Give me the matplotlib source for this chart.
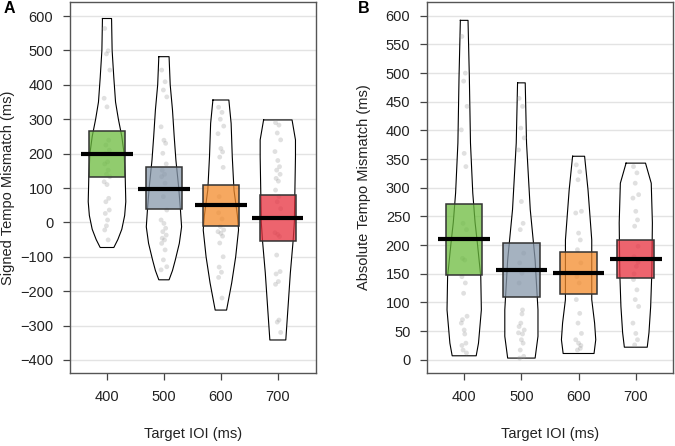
import numpy as np
import matplotlib
matplotlib.use("Agg")
from matplotlib import pyplot as plt
from matplotlib.patches import Rectangle

plt.rcParams['font.family'] = ['Liberation Sans', 'DejaVu Sans']

# groups and colours
groups = ['400', '500', '600', '700']
box_colors = ['#6cbc3e', '#8798ab', '#f48b2b', '#e8303e']

# panel A: signed tempo mismatch
signed_means = [200, 98, 50, 12]
signed_lower = [133, 38, -10, -55]
signed_upper = [265, 160, 110, 80]
signed_points = [
    [564, 499, 490, 443, 361, 336, 239, 225, 210, 200, 176, 170, 152, 140, 133,
     118, 110, 70, 60, 36, 26, 7, -22, -51, -10],
    [443, 409, 385, 365, 278, 239, 230, 201, 170, 152, 140, 133, 114, 75, 36, 7,
     -3, -17, -27, -37, -46, -51, -61, -80, -109, -129, -138],
    [335, 320, 300, 280, 258, 215, 205, 190, 160, 75, 50, 28, 10, -12, -22, -27,
     -32, -40, -60, -100, -130, -145, -160, -220],
    [290, 283, 260, 240, 206, 180, 162, 152, 140, 128, 120, 94, 75, 60, 40, -30,
     -35, -41, -95, -143, -150, -172, -180, -284, -290, -320],
]
signed_bean_y = [
    [593, 500, 420, 350, 300, 250, 200, 130, 60, 20, -20, -50, -73],
    [482, 400, 327, 250, 181, 100, 36, -13, -61, -109, -140, -167],
    [356, 288, 191, 94, 20, -22, -100, -176, -220, -255],
    [298, 240, 191, 94, 0, -51, -147, -245, -342],
]
signed_bean_w = [
    [0.08, 0.09, 0.12, 0.15, 0.2, 0.26, 0.3, 0.32, 0.33, 0.31, 0.26, 0.19, 0.12],
    [0.09, 0.11, 0.15, 0.18, 0.21, 0.26, 0.29, 0.31, 0.27, 0.2, 0.15, 0.09],
    [0.14, 0.18, 0.2, 0.23, 0.29, 0.31, 0.26, 0.19, 0.14, 0.1],
    [0.25, 0.31, 0.31, 0.3, 0.29, 0.27, 0.22, 0.18, 0.14],
]

# panel B: absolute tempo mismatch
abs_means = [210, 157, 151, 176]
abs_lower = [148, 110, 114, 143]
abs_upper = [272, 203, 188, 209]
abs_points = [
    [564, 500, 486, 442, 401, 360, 337, 238, 227, 177, 174, 145, 134, 116, 76,
     64, 52, 29, 17, 12, 70, 45, 25],
    [456, 442, 404, 387, 366, 276, 238, 227, 186, 169, 151, 134, 87, 64, 52, 47,
     35, 29, 17, 6, 3, 80, 58, 45],
    [340, 328, 314, 259, 256, 221, 209, 192, 169, 145, 134, 105, 81, 64, 46, 35,
     29, 20, 17, 25],
    [337, 326, 308, 288, 282, 259, 244, 233, 198, 180, 163, 140, 122, 105, 93,
     64, 46, 35, 26, 170, 150],
]
abs_bean_y = [
    [592, 494, 378, 291, 240, 204, 145, 87, 29, 7],
    [483, 378, 262, 174, 87, 41, 3],
    [355, 296, 209, 105, 64, 35, 11],
    [343, 308, 239, 152, 93, 47, 22],
]
abs_bean_w = [
    [0.067, 0.09, 0.11, 0.15, 0.19, 0.23, 0.29, 0.30, 0.25, 0.21],
    [0.067, 0.09, 0.155, 0.24, 0.29, 0.29, 0.24],
    [0.105, 0.165, 0.23, 0.23, 0.28, 0.3, 0.27],
    [0.17, 0.27, 0.29, 0.28, 0.26, 0.23, 0.2],
]

jitter = [-0.04, 0.02, -0.01, 0.05, -0.05, 0.0, 0.03, -0.02, 0.04, -0.03, 0.01]


def pirate(ax, means, lower, upper, points, bean_y, bean_w, yticks, ylim, ylabel):
    xs = np.arange(1, len(groups) + 1)
    for t in yticks:
        ax.axhline(t, color='#e3e3e3', lw=1, zorder=0)
    for i, x in enumerate(xs):
        by = np.array(bean_y[i])
        bw = np.array(bean_w[i])
        # bean outline
        ax.fill_betweenx(by, x - bw, x + bw, color='white', zorder=1, lw=0)
        outline_x = np.concatenate([x - bw, (x + bw)[::-1], [x - bw[0]]])
        outline_y = np.concatenate([by, by[::-1], [by[0]]])
        ax.plot(outline_x, outline_y, color='black', lw=0.8, zorder=2)
        # raw points
        px = [x + jitter[k % len(jitter)] for k in range(len(points[i]))]
        ax.scatter(px, points[i], s=12, color='#9a9a9a', alpha=0.3,
                   edgecolors='none', zorder=3)
        # inference box
        fc = matplotlib.colors.to_rgba(box_colors[i], 0.75)
        ax.add_patch(Rectangle((x - 0.32, lower[i]), 0.64, upper[i] - lower[i],
                               facecolor=fc, edgecolor='#333333', lw=1.1, zorder=4))
        # mean line
        ax.plot([x - 0.45, x + 0.45], [means[i], means[i]], color='black',
                lw=3, solid_capstyle='butt', zorder=5)
    ax.set_xticks(xs)
    ax.set_xticklabels(groups)
    ax.set_yticks(yticks)
    ax.set_ylim(ylim)
    for s in ax.spines.values():
        s.set_color('#555555')
        s.set_linewidth(1)
    ax.tick_params(direction='out', length=5, width=0.9, color='#444444',
                   labelsize=10.5, labelcolor='#222222', pad=7)
    ax.set_xlabel('Target IOI (ms)', fontsize=10.5, color='#222222')
    ax.set_ylabel(ylabel, fontsize=10.5, color='#222222')
    ax.xaxis.set_label_coords(0.5, -0.145)


fig = plt.figure(figsize=(6.75, 4.46), dpi=100)
axA = fig.add_axes([0.1037, 0.1637, 0.3644, 0.8318])
axB = fig.add_axes([0.6326, 0.1637, 0.3644, 0.8318])

pirate(axA, signed_means, signed_lower, signed_upper, signed_points,
       signed_bean_y, signed_bean_w, np.arange(-400, 601, 100), (-438, 641),
       'Signed Tempo Mismatch (ms)')
axA.set_xlim(0.35, 4.67)
axA.yaxis.set_label_coords(-0.222, 0.5)

pirate(axB, abs_means, abs_lower, abs_upper, abs_points,
       abs_bean_y, abs_bean_w, np.arange(0, 601, 50), (-23, 624),
       'Absolute Tempo Mismatch (ms)')
axB.set_xlim(0.35, 4.65)
axB.yaxis.set_label_coords(-0.226, 0.5)

fig.text(0.005, 0.997, 'A', fontsize=11.5, fontweight='bold', va='top', ha='left')
fig.text(0.530, 0.997, 'B', fontsize=11.5, fontweight='bold', va='top', ha='left')

fig.savefig('out.png', dpi=100)
